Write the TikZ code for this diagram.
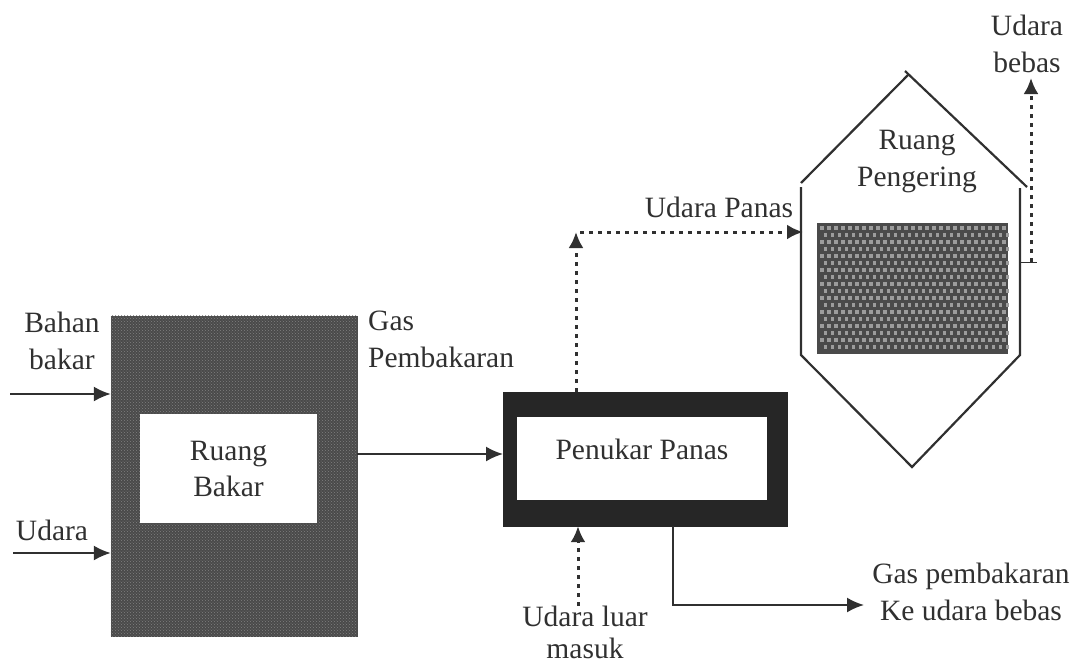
\documentclass[tikz,border=0pt]{standalone}
\usepackage{fontspec}
\setmainfont{Liberation Serif}
\usetikzlibrary{arrows.meta,patterns}
\definecolor{tinta}{HTML}{303030}
\definecolor{abu}{HTML}{4A4A4A}
\definecolor{bintik}{HTML}{9C9C9C}
\tikzset{
  label/.style={text=tinta,align=center,inner sep=0pt,font=\fontsize{29.5}{37}\selectfont},
  tebal/.style={draw=abu,fill=abu,inner sep=0pt},
  ruang/.style={fill=white,inner sep=0pt,label},
  solid arrow/.style={draw=tinta,line width=2pt,-{Latex[length=17pt,width=15pt]}},
  dot arrow/.style={draw=tinta,line width=3pt,dash pattern=on 4pt off 5pt,-{Latex[length=16pt,width=15pt]}},
  wall/.style={draw=tinta,line width=2.2pt},
}
\begin{document}
\begin{tikzpicture}[x=1pt,y=-1pt]
  \useasboundingbox (0,0) rectangle (1076,665);
  % ruang bakar
  \node[tebal,minimum width=246pt,minimum height=320pt] (tungku) at (234,476) {};
  \fill[pattern=crosshatch dots,pattern color=white!30!abu] (tungku.south west) rectangle (tungku.north east);
  \node[ruang,minimum width=177pt,minimum height=109pt] (bakar) at (228.5,468.5) {Ruang\\[-1pt]Bakar};
  % penukar panas
  \node[draw=black!85,fill=black!85,inner sep=0pt,minimum width=284pt,minimum height=134pt] (tukar) at (645,459) {};
  \node[fill=white,minimum width=250pt,minimum height=83pt,inner sep=0pt] (tukardalam) at (642,458.5) {};
  \node[label] (tukarteks) at (642,449) {Penukar Panas};
  % ruang pengering
  \coordinate (puncak) at (908,75);
  \coordinate (atasL) at (801,183);
  \coordinate (atasR) at (1027,187);
  \coordinate (dasar) at (912,467);
  \draw[wall] (atasL) -- (puncak);
  \draw[wall] (905,71) -- (atasR);
  \draw[wall] (801,187) -- (801,355) -- (dasar) -- (1020,355) -- (1020,188);
  \node[tebal,minimum width=190pt,minimum height=130pt] (produk) at (912,288) {};
  \foreach \baris in {0,...,17} {
    \foreach \kolom in {0,...,26} {
      \pgfmathsetmacro{\geser}{mod(\baris,2)*3.5}
      \fill[bintik] (820+\kolom*7+\geser,226+\baris*7) rectangle +(3.5,3.5);
    }
  }
  \node[label] (pengering) at (917,162) {Ruang\\Pengering};
  % teks
  \node[label] (bahan) at (62,341) {Bahan\\bakar};
  \node[label] (udara) at (52,530) {Udara};
  \node[label,align=left,anchor=west] (gas) at (368,339) {Gas\\Pembakaran};
  \node[label] (panas) at (719,207) {Udara Panas};
  \node[label] (bebas) at (1027,44) {Udara\\bebas};
  \node[label] (luar) at (585,632) {Udara luar\\[-5pt]masuk};
  \node[label] (buang) at (971,592) {Gas pembakaran\\Ke udara bebas};
  % panah
  \coordinate (mulaiA) at (10,394);
  \coordinate (mulaiB) at (13,553);
  \coordinate (belok) at (576,232);
  \coordinate (dinding) at (803,232);
  \coordinate (sudut) at (673,605);
  \coordinate (ujung) at (864,605);
  \coordinate (keluar) at (1031,262);
  \coordinate (atasbebas) at (1031,78);
  \coordinate (tikL) at (1020,262);
  \draw[solid arrow] (mulaiA) -- (mulaiA -| tungku.west);
  \draw[solid arrow] (mulaiB) -- (mulaiB -| tungku.west);
  \draw[solid arrow] (tungku.east |- tukar.west) ++(0,-5) -- (503,454);
  \draw[dot arrow] (tukar.north -| belok) -- (belok);
  \draw[dot arrow] (580,232) -- (dinding);
  \draw[dot arrow] (578,606) -- (tukar.south -| 578,0);
  \draw[solid arrow] (tukar.south -| sudut) -- (sudut) -- (ujung);
  \draw[dot arrow] (keluar) -- (atasbebas);
  \draw[draw=tinta,line width=1pt] (tikL) -- (1037,262);
\end{tikzpicture}
\end{document}
